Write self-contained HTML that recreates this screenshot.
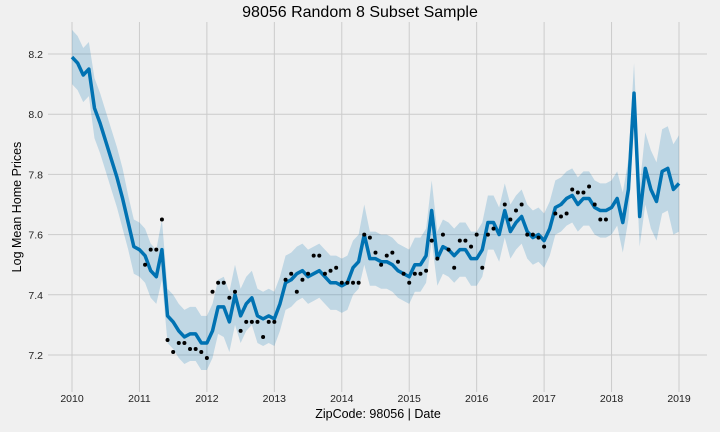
<!DOCTYPE html>
<html><head><meta charset="utf-8"><style>
html,body{margin:0;padding:0;background:#f0f0f0;}
svg{display:block;font-family:"Liberation Sans","DejaVu Sans",sans-serif;}
</style></head><body>
<svg id="chart" width="720" height="432">
<rect width="720" height="432" fill="#f0f0f0"/>
<g id="grid"></g><g id="band"></g><g id="line"></g><g id="pts"></g><g id="ticks"></g>
<text x="360" y="17" text-anchor="middle" font-size="16" fill="#000">98056 Random 8 Subset Sample</text>
<text x="378" y="418" text-anchor="middle" font-size="12.5" fill="#000">ZipCode: 98056 | Date</text>
<text transform="translate(21,207) rotate(-90)" text-anchor="middle" font-size="12.5" fill="#000">Log Mean Home Prices</text>
</svg>
<script>
const yhat=[8.19,8.17,8.13,8.15,8.02,7.97,7.91,7.85,7.79,7.72,7.64,7.56,
7.55,7.53,7.48,7.46,7.55,7.33,7.31,7.28,7.26,7.27,7.27,7.24,
7.24,7.28,7.36,7.36,7.31,7.40,7.33,7.37,7.39,7.33,7.32,7.33,
7.32,7.37,7.44,7.45,7.47,7.48,7.46,7.47,7.48,7.46,7.44,7.44,
7.43,7.44,7.49,7.51,7.60,7.52,7.52,7.51,7.51,7.50,7.48,7.47,
7.46,7.50,7.50,7.53,7.68,7.52,7.56,7.55,7.53,7.55,7.55,7.52,
7.52,7.55,7.64,7.64,7.60,7.68,7.61,7.64,7.66,7.61,7.59,7.60,
7.58,7.62,7.69,7.70,7.72,7.73,7.70,7.72,7.72,7.69,7.68,7.68,
7.69,7.72,7.64,7.75,8.07,7.66,7.82,7.75,7.71,7.81,7.82,7.75,7.77];
const bandHalf=[0.09,0.09,0.09,0.09,0.1,0.1,0.1,0.1,0.1,0.1,0.09,0.09,
0.09,0.09,0.09,0.09,0.1,0.09,0.09,0.09,0.09,0.09,0.09,0.09,
0.09,0.09,0.09,0.1,0.1,0.1,0.09,0.09,0.09,0.09,0.09,0.09,
0.09,0.09,0.09,0.09,0.09,0.09,0.09,0.09,0.09,0.09,0.09,0.09,
0.09,0.09,0.09,0.09,0.1,0.09,0.09,0.09,0.09,0.09,0.09,0.09,
0.09,0.09,0.09,0.09,0.1,0.09,0.09,0.09,0.09,0.09,0.09,0.09,
0.09,0.09,0.09,0.09,0.09,0.09,0.09,0.09,0.09,0.09,0.09,0.09,
0.09,0.09,0.09,0.09,0.09,0.09,0.09,0.09,0.09,0.09,0.09,0.09,
0.09,0.09,0.1,0.1,0.1,0.1,0.12,0.13,0.13,0.14,0.14,0.15,0.16];
const obsMonth=[13,14,15,16,17,18,19,20,21,22,23,24,25,26,27,28,29,30,31,32,33,34,35,36,38,39,40,41,42,43,44,45,46,47,48,49,50,51,52,53,54,55,56,57,58,59,60,61,62,63,64,65,66,67,68,69,70,71,72,73,74,75,77,78,79,80,81,82,83,84,86,87,88,89,90,91,92,93,94,95];
const obsValue=[7.50,7.55,7.55,7.65,7.25,7.21,7.24,7.24,7.22,7.22,7.21,7.19,7.41,7.44,7.44,7.39,7.41,7.28,7.31,7.31,7.31,7.26,7.31,7.31,7.45,7.47,7.41,7.45,7.47,7.53,7.53,7.47,7.48,7.49,7.44,7.44,7.44,7.44,7.60,7.59,7.54,7.50,7.53,7.54,7.51,7.47,7.44,7.47,7.47,7.48,7.58,7.52,7.60,7.55,7.49,7.58,7.58,7.56,7.60,7.49,7.60,7.62,7.70,7.65,7.68,7.70,7.60,7.60,7.59,7.56,7.67,7.66,7.67,7.75,7.74,7.74,7.76,7.70,7.65,7.65];
const xTickLabels=["2010","2011","2012","2013","2014","2015","2016","2017","2018","2019"];
const yTickLabels=["7.2","7.4","7.6","7.8","8.0","8.2"];
const yTickValues=[7.2,7.4,7.6,7.8,8.0,8.2];

const NS="http://www.w3.org/2000/svg";
const X0=48,X1=707,Y0=22,Y1=392;
function xs(month){return 72+month*(607.0/108);}
function ys(v){return 355-(v-7.2)*301;}
function mk(tag,attrs,parent){const e=document.createElementNS(NS,tag);for(const k in attrs)e.setAttribute(k,attrs[k]);document.getElementById(parent).appendChild(e);return e;}

xTickLabels.forEach((lab,i)=>{
  const x=xs(i*12);
  const g=mk('line',{x1:x,x2:x,y1:Y0,y2:Y1,stroke:'#cbcbcb','stroke-width':1},'grid');
  
  
  const t=mk('text',{x:x,y:402,'text-anchor':'middle','font-size':10.5,fill:'#222'},'ticks');
  t.textContent=lab;
  
  
});
yTickValues.forEach((v,i)=>{
  const y=ys(v);
  const g=mk('line',{x1:X0,x2:X1,y1:y,y2:y,stroke:'#cbcbcb','stroke-width':1},'grid');
  
  
  const t=mk('text',{x:43,y:y+4,'text-anchor':'end','font-size':10.5,fill:'#222'},'ticks');
  t.textContent=yTickLabels[i];
  
  
});
let up=[],lo=[];
yhat.forEach((v,i)=>{up.push(xs(i)+','+ys(v+bandHalf[i]));lo.unshift(xs(i)+','+ys(v-bandHalf[i]));});
const band=mk('polygon',{points:up.concat(lo).join(' '),fill:'#0072B2','fill-opacity':0.2},'band');


const ln=mk('polyline',{points:yhat.map((v,i)=>xs(i)+','+ys(v)).join(' '),fill:'none',stroke:'#0072B2','stroke-width':3.5,'stroke-linejoin':'round'},'line');


obsMonth.forEach((m,i)=>{
  const c=mk('circle',{cx:xs(m),cy:ys(obsValue[i]),r:2,fill:'#000'},'pts');
  
  
});
</script>
</body></html>
